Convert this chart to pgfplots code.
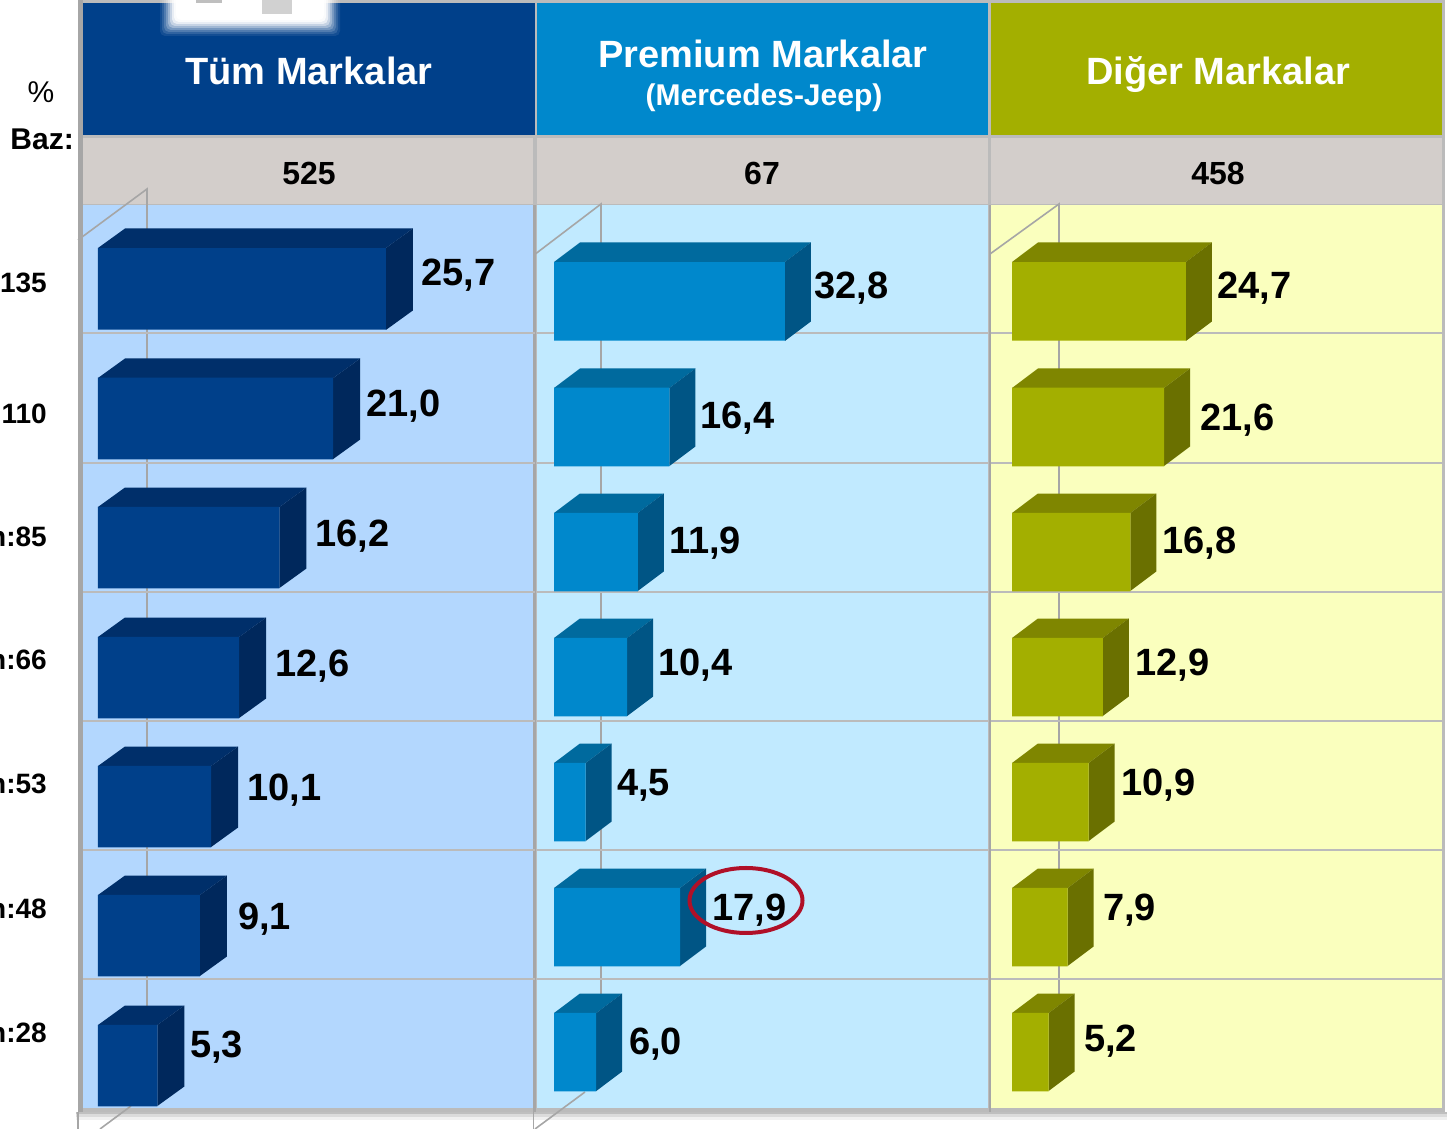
\documentclass[border=0pt]{standalone}
\usepackage{pgfplots}
\pgfplotsset{compat=1.18}
\usepackage{fontspec}
\setmainfont{Liberation Sans}
\definecolor{afront}{HTML}{00408A}\definecolor{atop}{HTML}{002F6A}\definecolor{aside}{HTML}{00285C}\definecolor{abg}{HTML}{B3D7FE}
\definecolor{bfront}{HTML}{0088CC}\definecolor{btop}{HTML}{006A9E}\definecolor{bside}{HTML}{005585}\definecolor{bbg}{HTML}{C1EAFF}
\definecolor{cfront}{HTML}{A3AF00}\definecolor{ctop}{HTML}{7F8600}\definecolor{cside}{HTML}{6A7000}\definecolor{cbg}{HTML}{FAFFBE}
\definecolor{base}{HTML}{D3CECB}\definecolor{rule}{HTML}{BBBBBB}\definecolor{wall}{HTML}{A6A6A6}\definecolor{ring}{HTML}{B01028}
\newcommand{\fsz}[1]{\fontsize{#1}{#1}\selectfont}
% depth faces of one bar: value, top y, bottom y
\newcommand{\cuboid}[3]{%
  \pgfmathsetmacro\xb{#1+\dxval}%
  \pgfmathsetmacro\yt{#2-19.5}%
  \pgfmathsetmacro\yb{#3-19.5}%
  \addplot[fill=\tc,draw=none] coordinates {(0,#2) (\dxval,\yt) (\xb,\yt) (#1,#2)} -- cycle;
  \addplot[fill=\sc,draw=none] coordinates {(#1,#2) (\xb,\yt) (\xb,\yb) (#1,#3)} -- cycle;
}
\pgfplotsset{panel/.style={
  scale only axis, height=903pt, clip=false,
  ymin=205, ymax=1108, y dir=reverse,
  xtick=\empty, ytick={333,463,592,721,850,979}, yticklabels={},
  major tick length=0pt, ymajorgrids,
  grid style={rule,line width=2.5pt},
  axis line style={draw=none}}}
\begin{document}
\begin{tikzpicture}
\useasboundingbox (0,0) rectangle (1449pt,1129pt);
\begin{scope}[x=1pt,y=-1pt,yshift=1129pt]
  % frame and shadow
  \fill[black!6] (76,1112) rectangle (1447,1120);
  \fill[black!14] (76,1112) rectangle (1447,1117);
  \fill[black!25] (76,1112) rectangle (1447,1114.5);
  \fill[rule] (78,0) rectangle (1445,1112);
  % panels
  \fill[abg] (83,205) rectangle (533,1108);
  \fill[bbg] (537,205) rectangle (988,1108);
  \fill[cbg] (991,205) rectangle (1442,1108);
  \fill[wall] (78,0) rectangle (83,1112);
  \fill[wall] (533,205) rectangle (536,1112);
  \fill[wall] (988.5,205) rectangle (991,1112);
  % base row
  \fill[base] (83,138) rectangle (533,204);
  \fill[base] (537,138) rectangle (988,204);
  \fill[base] (991,138) rectangle (1442,204);
  % headers
  \fill[afront] (83,3) rectangle (534.5,135);
  \fill[bfront] (537,3) rectangle (988,135);
  \fill[cfront] (991,3) rectangle (1442,135);
  % faded picture at the top
  \foreach \d/\o in {12/.08,10/.12,8/.16,6/.22,4/.3,2/.4,0/.6,-2/.8,-4/1}{
    \fill[white,opacity=\o,rounded corners=5pt] ({172-\d},-10) rectangle ({328+\d},{24+\d});
  }
  \fill[black!25] (196,0) rectangle (222,3);
  \fill[black!18] (262,0) rectangle (292,14);
  % back walls of the 3-D plots
  \draw[wall,line width=1.6pt] (78,240) -- (147,189) -- (147,1030);
  \draw[wall,line width=1.6pt] (534,255) -- (601,204) -- (601,1020);
  \draw[wall,line width=1.6pt] (990,254) -- (1059,204) -- (1059,1020);
  \draw[wall,line width=1.6pt] (131,1106) -- (100,1129);
  \draw[wall,line width=1.6pt] (585,1092) -- (535,1129);
  \draw[wall,line width=1.6pt] (78,1112) -- (78,1129);
  \draw[wall,line width=1.6pt] (533.5,1112) -- (533.5,1129);
\end{scope}

% ---------- Tum Markalar
\def\tc{atop}\def\sc{aside}\def\dxval{2.41}
\begin{axis}[panel, at={(83pt,21pt)}, anchor=south west, width=451.5pt,
  xmin=-1.339, xmax=38.97]
  \cuboid{25.7}{248}{330}
  \cuboid{21.0}{378}{459}
  \cuboid{16.2}{507}{588}
  \cuboid{12.6}{637}{718}
  \cuboid{10.1}{766}{847}
  \cuboid{9.1}{895}{976}
  \cuboid{5.3}{1025}{1106}
  \addplot[xbar, bar shift=0pt, bar width=81.5pt, fill=afront, draw=none] coordinates
   {(25.7,289) (21.0,418.5) (16.2,547.5) (12.6,677.5) (10.1,806.5) (9.1,935.5) (5.3,1065.5)};
\end{axis}

% ---------- Premium Markalar
\def\tc{btop}\def\sc{bside}\def\dxval{3.69}
\begin{axis}[panel, at={(536.5pt,21pt)}, anchor=south west, width=452.5pt,
  xmin=-2.486, xmax=61.79]
  \cuboid{32.8}{262}{341}
  \cuboid{16.4}{388}{466}
  \cuboid{11.9}{513}{591}
  \cuboid{10.4}{638}{716}
  \cuboid{4.5}{763}{841}
  \cuboid{17.9}{888}{966}
  \cuboid{6.0}{1013}{1091}
  \addplot[xbar, bar shift=0pt, bar width=78.5pt, fill=bfront, draw=none] coordinates
   {(32.8,301.5) (16.4,427) (11.9,552) (10.4,677) (4.5,802) (17.9,927) (6.0,1052)};
\end{axis}

% ---------- Diger Markalar
\def\tc{ctop}\def\sc{cside}\def\dxval{3.69}
\begin{axis}[panel, at={(990.5pt,21pt)}, anchor=south west, width=451.5pt,
  xmin=-3.054, xmax=61.08]
  \cuboid{24.7}{262}{341}
  \cuboid{21.6}{388}{466}
  \cuboid{16.8}{513}{591}
  \cuboid{12.9}{638}{716}
  \cuboid{10.9}{763}{841}
  \cuboid{7.9}{888}{966}
  \cuboid{5.2}{1013}{1091}
  \addplot[xbar, bar shift=0pt, bar width=78.5pt, fill=cfront, draw=none] coordinates
   {(24.7,301.5) (21.6,427) (16.8,552) (12.9,677) (10.9,802) (7.9,927) (5.2,1052)};
\end{axis}

\begin{scope}[x=1pt,y=-1pt,yshift=1129pt,
   val/.style={anchor=west,inner sep=0pt,yshift=-3pt,font=\fsz{38}\bfseries},
   row/.style={anchor=east,inner sep=0pt,font=\fsz{28}\bfseries},
   hd/.style={text=white,inner sep=0pt,font=\fsz{38}\bfseries},
   bs/.style={inner sep=0pt,font=\fsz{32}\bfseries}]
  \node[hd] at (309,71) {Tüm Markalar};
  \node[hd] at (763,54) {Premium Markalar};
  \node[hd,font=\fsz{30}\bfseries] at (764,98) {(Mercedes-Jeep)};
  \node[hd] at (1218,75) {Diğer Markalar};
  \node[bs] at (309,173) {525};
  \node[bs] at (762,173) {67};
  \node[bs] at (1218,173) {458};
  \node[inner sep=0pt,font=\fsz{30}] at (41,92) {\%};
  \node[row,font=\fsz{30}\bfseries] at (74,139) {Baz:};
  \node[row] at (47,283) {135};
  \node[row] at (47,414) {110};
  \node[row] at (47,537) {n:85};
  \node[row] at (47,660) {n:66};
  \node[row] at (47,784) {n:53};
  \node[row] at (47,909) {n:48};
  \node[row] at (47,1033) {n:28};
  \node[val] at (421,272) {25,7};
  \node[val] at (366,403) {21,0};
  \node[val] at (315,533) {16,2};
  \node[val] at (275,663) {12,6};
  \node[val] at (247,787) {10,1};
  \node[val] at (238,916) {9,1};
  \node[val] at (190,1044) {5,3};
  \node[val] at (814,285) {32,8};
  \node[val] at (700,415) {16,4};
  \node[val] at (669,540) {11,9};
  \node[val] at (658,662) {10,4};
  \node[val] at (617,782) {4,5};
  \node[val] at (712,907) {17,9};
  \node[val] at (629,1041) {6,0};
  \node[val] at (1217,285) {24,7};
  \node[val] at (1200,417) {21,6};
  \node[val] at (1162,540) {16,8};
  \node[val] at (1135,662) {12,9};
  \node[val] at (1121,782) {10,9};
  \node[val] at (1103,907) {7,9};
  \node[val] at (1084,1038) {5,2};
  \draw[ring,line width=4pt] (746,900.5) ellipse [x radius=56.5, y radius=32.5];
\end{scope}
\end{tikzpicture}
\end{document}
